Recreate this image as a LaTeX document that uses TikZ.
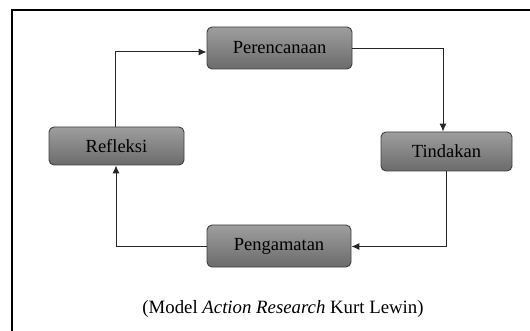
\documentclass[tikz,border=0pt]{standalone}
\usepackage{fontspec}
\setmainfont{Liberation Serif}
\usetikzlibrary{arrows.meta}
\begin{document}
\begin{tikzpicture}[x=1pt,y=-1pt,
  stagebox/.style={draw=black!75,line width=0.9pt,rounded corners=5pt,
    top color=black!38,bottom color=black!58,inner sep=0pt,
    font=\fontsize{18.5}{21}\selectfont},
  flow/.style={draw=black!85,line width=1pt},
  flowarr/.style={flow,-{Latex[length=8pt,width=7pt]}}]
\useasboundingbox (0,0) rectangle (530,331);
\begin{scope}
\clip (0,0) rectangle (530,331);
\draw[line width=1.4pt] (540,10) -- (12,10) -- (12,345);
\end{scope}
\node[stagebox,minimum width=145pt,minimum height=42pt] (p) at (279.5,48) {Perencanaan};
\node[stagebox,minimum width=135pt,minimum height=38pt] (r) at (116.5,146) {Refleksi};
\node[stagebox,minimum width=131pt,minimum height=39pt] (t) at (446.5,151.5) {Tindakan};
\node[stagebox,minimum width=144pt,minimum height=42pt] (g) at (279,246) {Pengamatan};
\coordinate (c1) at (443,49);
\coordinate (c2) at (446,246.5);
\coordinate (c3) at (116,246.5);
\coordinate (c4) at (115,52);
\draw[flowarr] (p.east |- c1) -- (c1) -- (c1 |- t.north);
\draw[flowarr] (c2 |- t.south) -- (c2) -- (g.east |- c2);
\draw[flowarr] (g.west |- c3) -- (c3) -- (c3 |- r.south);
\draw[flowarr] (c4 |- r.north) -- (c4) -- (p.west |- c4);
\node[font=\fontsize{18.8}{22}\selectfont] (cap) at (283,309) {(Model \textit{Action Research} Kurt Lewin)};
\end{tikzpicture}
\end{document}
